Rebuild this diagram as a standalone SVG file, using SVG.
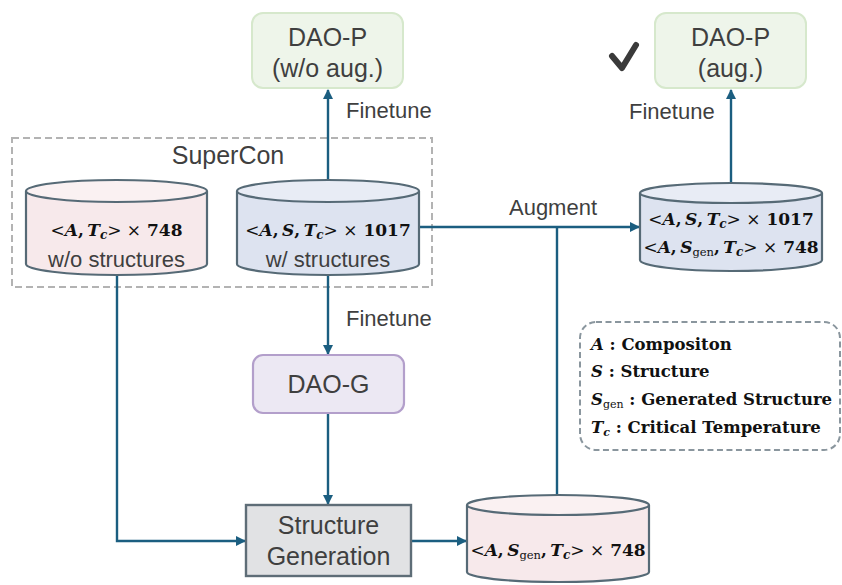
<svg xmlns="http://www.w3.org/2000/svg" width="842" height="585" viewBox="0 0 842 585">
  <defs>
    <marker id="arrow" viewBox="0 0 10 10" refX="9" refY="5" markerWidth="4.2" markerHeight="4.2" orient="auto" markerUnits="strokeWidth">
      <path d="M0,0 L10,5 L0,10 Z" fill="#1b5e80"/>
    </marker>
    <style>
      .lbl { font-family: "Liberation Sans", Arial, sans-serif; fill: #3f3f3f; }
      .big { font-size: 25px; }
      .mid { font-size: 22px; }
      .math { font-family: "DejaVu Serif", "Liberation Serif", serif; font-size: 17px; fill: #111; font-weight: bold; }
      .mi { font-style: italic; }
      .rm { font-weight: normal; }
      .conn { fill: none; stroke: #1b5e80; stroke-width: 2.4; }
      .cyl { stroke: #566a76; stroke-width: 2.2; }
      .legend { font-family: "DejaVu Serif", "Liberation Serif", serif; font-size: 16.5px; font-weight: bold; fill: #111; }
    </style>
  </defs>

  <rect width="842" height="585" fill="#ffffff"/>

  <!-- SuperCon grouping -->
  <g id="supercon">
    <rect x="12" y="138" width="420" height="149" fill="none" stroke="#b3b3b3" stroke-width="2" stroke-dasharray="7,4"/>
    <text class="lbl big" x="228" y="164" text-anchor="middle" fill="#555">SuperCon</text>
  </g>

  <!-- connectors -->
  <g id="connectors">
    <line class="conn" x1="328" y1="180" x2="328" y2="90" marker-end="url(#arrow)"/>
    <line class="conn" x1="731" y1="183" x2="731" y2="90" marker-end="url(#arrow)"/>
    <line class="conn" x1="419" y1="227" x2="639" y2="227" marker-end="url(#arrow)"/>
    <line class="conn" x1="557" y1="227" x2="557" y2="494"/>
    <line class="conn" x1="328" y1="275" x2="328" y2="354" marker-end="url(#arrow)"/>
    <line class="conn" x1="328" y1="413" x2="328" y2="504" marker-end="url(#arrow)"/>
    <polyline class="conn" points="117,275 117,541 245,541" marker-end="url(#arrow)"/>
    <line class="conn" x1="411" y1="541" x2="466" y2="541" marker-end="url(#arrow)"/>
    <text class="lbl mid" x="346" y="118">Finetune</text>
    <text class="lbl mid" x="629" y="119">Finetune</text>
    <text class="lbl mid" x="346" y="326">Finetune</text>
    <text class="lbl mid" x="553" y="215" text-anchor="middle" fill="#111">Augment</text>
  </g>

  <!-- DAO-P without augmentation -->
  <g id="daop-noaug">
    <rect x="252" y="13" width="151" height="75" rx="11" fill="#eef5ea" stroke="#d6e8cc" stroke-width="2"/>
    <text class="lbl big" x="327.5" y="46" text-anchor="middle">DAO-P</text>
    <text class="lbl big" x="327.5" y="77" text-anchor="middle">(w/o aug.)</text>
  </g>

  <!-- DAO-P with augmentation -->
  <g id="daop-aug">
    <rect x="655" y="13" width="151" height="75" rx="11" fill="#eef5ea" stroke="#d6e8cc" stroke-width="2"/>
    <text class="lbl big" x="730.5" y="46" text-anchor="middle">DAO-P</text>
    <text class="lbl big" x="730.5" y="77" text-anchor="middle">(aug.)</text>
    <path d="M612,56 L622,68 L636,45" fill="none" stroke="#3a3a3a" stroke-width="6" stroke-linecap="round" stroke-linejoin="round"/>
  </g>

  <!-- data without structures -->
  <g id="db-nostruct">
    <path class="cyl" d="M26,191 L26,264 A90.5,11 0 0 0 207,264 L207,191" fill="#f7e9eb"/>
    <ellipse class="cyl" cx="116.5" cy="191" rx="90.5" ry="11" fill="#faf1f2"/>
    <text class="math" x="116.5" y="236" text-anchor="middle"><tspan class="rm">&lt;</tspan><tspan class="mi">A</tspan>,&#8201;<tspan class="mi">T</tspan><tspan class="mi" font-size="12" dy="3">c</tspan><tspan class="rm" dy="-3">&gt; ×</tspan> 748</text>
    <text class="lbl mid" x="116.5" y="267" text-anchor="middle">w/o structures</text>
  </g>

  <!-- data with structures -->
  <g id="db-struct">
    <path class="cyl" d="M237,191 L237,264 A91,11 0 0 0 419,264 L419,191" fill="#dde3f0"/>
    <ellipse class="cyl" cx="328" cy="191" rx="91" ry="11" fill="#e8ecf5"/>
    <text class="math" x="328" y="236" text-anchor="middle"><tspan class="rm">&lt;</tspan><tspan class="mi">A</tspan>,&#8201;<tspan class="mi">S</tspan>,&#8201;<tspan class="mi">T</tspan><tspan class="mi" font-size="12" dy="3">c</tspan><tspan class="rm" dy="-3">&gt; ×</tspan> 1017</text>
    <text class="lbl mid" x="328" y="267" text-anchor="middle">w/ structures</text>
  </g>

  <!-- augmented dataset -->
  <g id="db-augmented">
    <path class="cyl" d="M640,193 L640,260 A91,11 0 0 0 822,260 L822,193" fill="#dde3f0"/>
    <ellipse class="cyl" cx="731" cy="193" rx="91" ry="10" fill="#e8ecf5"/>
    <text class="math" x="731" y="225" text-anchor="middle"><tspan class="rm">&lt;</tspan><tspan class="mi">A</tspan>,&#8201;<tspan class="mi">S</tspan>,&#8201;<tspan class="mi">T</tspan><tspan class="mi" font-size="12" dy="3">c</tspan><tspan class="rm" dy="-3">&gt; ×</tspan> 1017</text>
    <text class="math" x="731" y="253" text-anchor="middle"><tspan class="rm">&lt;</tspan><tspan class="mi">A</tspan>,&#8201;<tspan class="mi">S</tspan><tspan class="rm" font-size="11.5" dy="3">gen</tspan><tspan dy="-3">,&#8201;</tspan><tspan class="mi">T</tspan><tspan class="mi" font-size="12" dy="3">c</tspan><tspan class="rm" dy="-3">&gt; ×</tspan> 748</text>
  </g>

  <!-- generator model -->
  <g id="dao-g">
    <rect x="253" y="355" width="151" height="58" rx="10" fill="#ece8f3" stroke="#b39fcb" stroke-width="2.2"/>
    <text class="lbl big" x="328.5" y="393" text-anchor="middle">DAO-G</text>
  </g>

  <!-- structure generation step -->
  <g id="structure-generation">
    <rect x="246" y="505" width="165" height="71" fill="#e1e2e4" stroke="#5e6d77" stroke-width="2.4"/>
    <text class="lbl big" x="328.5" y="534" text-anchor="middle">Structure</text>
    <text class="lbl big" x="328.5" y="565" text-anchor="middle">Generation</text>
  </g>

  <!-- generated dataset -->
  <g id="db-generated">
    <path class="cyl" d="M467,505 L467,572 A91,10 0 0 0 649,572 L649,505" fill="#f7e9eb"/>
    <ellipse class="cyl" cx="558" cy="505" rx="91" ry="10" fill="#faf1f2"/>
    <text class="math" x="558" y="556" text-anchor="middle"><tspan class="rm">&lt;</tspan><tspan class="mi">A</tspan>,&#8201;<tspan class="mi">S</tspan><tspan class="rm" font-size="11.5" dy="3">gen</tspan><tspan dy="-3">,&#8201;</tspan><tspan class="mi">T</tspan><tspan class="mi" font-size="12" dy="3">c</tspan><tspan class="rm" dy="-3">&gt; ×</tspan> 748</text>
  </g>

  <!-- notation legend -->
  <g id="legend">
    <rect x="580" y="322" width="260" height="128" rx="16" fill="none" stroke="#8a969e" stroke-width="2" stroke-dasharray="6,3.5"/>
    <text class="legend" x="591" y="350"><tspan class="mi">A</tspan> : Compositon</text>
    <text class="legend" x="591" y="377"><tspan class="mi">S</tspan> : Structure</text>
    <text class="legend" x="591" y="405"><tspan class="mi">S</tspan><tspan class="rm" font-size="11" dy="3">gen</tspan><tspan dy="-3"> : Generated Structure</tspan></text>
    <text class="legend" x="591" y="433"><tspan class="mi">T</tspan><tspan class="mi" font-size="11" dy="3">c</tspan><tspan dy="-3"> : Critical Temperature</tspan></text>
  </g>
</svg>
